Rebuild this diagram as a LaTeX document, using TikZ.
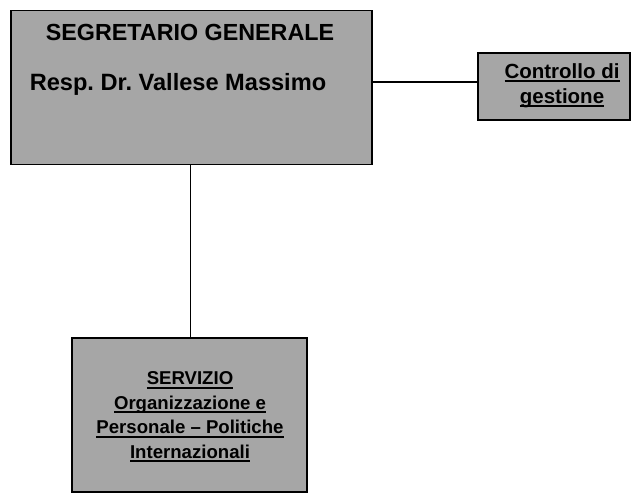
\documentclass[tikz,border=0pt]{standalone}
\usepackage{fontspec}
\setmainfont{Liberation Sans}
\frenchspacing
\newcommand{\ulit}[1]{\leavevmode\setbox0=\hbox{#1}\rlap{\vrule height -2.2pt depth 4pt width \wd0}\box0}
\usetikzlibrary{positioning}
\tikzset{
  unit/.style  = {draw, line width=1.5pt, fill=black!35, inner sep=0pt},
  txt/.style   = {inner sep=0pt, font=\bfseries},
  wire/.style  = {line width=1.8pt},
}

\begin{document}
\begin{tikzpicture}[x=1pt,y=1pt]
  \useasboundingbox (0,0) rectangle (635,-493);
  % boxes
  \node[unit, minimum width=361pt, minimum height=154pt] (segr) at (191.5,-87.5) {};
  \node[unit, minimum width=152pt, minimum height=67pt] (ctrl) at (554,-86.5) {};
  \node[unit, minimum width=235pt, minimum height=154pt] (serv) at (189.5,-415) {};
  % texts
  \node[txt, anchor=base, font=\fontsize{23.3}{27}\selectfont\bfseries] (segrtit) at (190,-40) {SEGRETARIO GENERALE};
  \node[txt, anchor=base, font=\fontsize{23.6}{27}\selectfont\bfseries] (segrresp) at (178,-90) {Resp. Dr. Vallese Massimo};
  \node[txt, align=center, font=\fontsize{20.5}{25}\selectfont\bfseries] (ctrltxt) at (562,-85.5) {\ulit{Controllo di}\\\ulit{gestione}};
  \node[txt, align=center, font=\fontsize{18.6}{24.5}\selectfont\bfseries] (servtxt) at (190,-417) {\ulit{SERVIZIO}\\\ulit{Organizzazione e}\\\ulit{Personale -- Politiche}\\\ulit{Internazionali}};
  % connectors
  \draw[wire] ([yshift=4.5pt]segr.east |- ctrl.west) -- ([yshift=4.5pt]ctrl.west);
  \draw[wire] (serv.north -| 190.5,0) -- (segr.south -| 190.5,0);
\end{tikzpicture}
\end{document}
